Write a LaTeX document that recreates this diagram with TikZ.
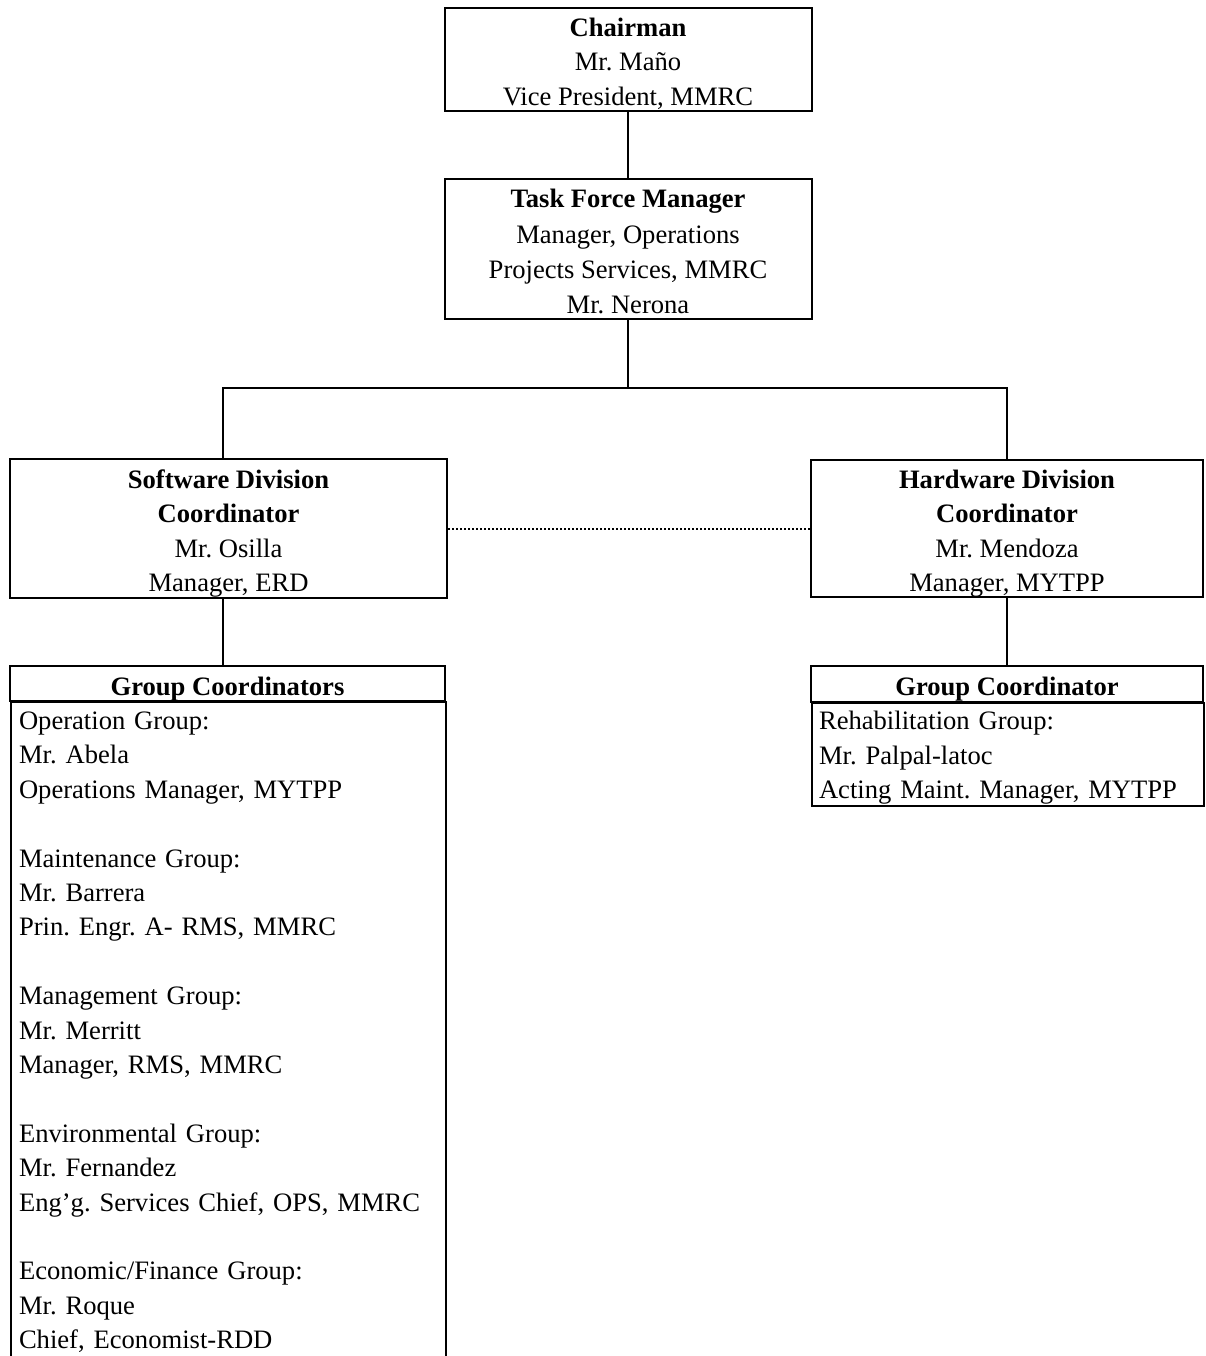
\documentclass[tikz,border=0pt]{standalone}
\usepackage{fontspec}
\setmainfont{Liberation Serif}
\newcommand\ostrut{\rule[-5.7pt]{0pt}{34.4pt}}
\newcommand\rstrut{\rule[-7.8pt]{0pt}{34.4pt}}
\tikzset{
  orgbox/.style={draw, line width=2pt, inner sep=0pt, align=center, font=\fontsize{26.6}{34.4}\selectfont\frenchspacing},
  headbox/.style={draw, line width=2pt, inner sep=0pt, align=center, font=\fontsize{26.6}{34.4}\selectfont\bfseries},
  listbox/.style={draw, line width=2pt, inner xsep=7pt, inner ysep=0pt, align=left, anchor=north west, font=\fontsize{26.6}{34.4}\selectfont\frenchspacing},
  link/.style={line width=2pt},
  peer/.style={line width=2pt, dash pattern=on 2pt off 2pt},
}
\begin{document}
\begin{tikzpicture}[x=1pt,y=-1pt]
\useasboundingbox (0,0) rectangle (1205,1356);
\clip (0,0) rectangle (1205,1356);

\node[orgbox, minimum width=367pt, minimum height=103pt] (chair) at (628,59.5)
  {\ostrut\textbf{Chairman}\\\ostrut Mr. Maño\\\ostrut Vice President, MMRC};
\node[orgbox, minimum width=367pt, minimum height=138pt] (tfm) at (628,249)
  {\ostrut\textbf{Task Force Manager}\\\ostrut Manager, Operations\\\ostrut Projects Services, MMRC\\\ostrut Mr. Nerona};
\node[orgbox, minimum width=437pt, minimum height=139pt] (sw) at (228.5,528.5)
  {\ostrut\textbf{Software Division}\\\ostrut\textbf{Coordinator}\\\ostrut Mr. Osilla\\\ostrut Manager, ERD};
\node[orgbox, minimum width=392pt, minimum height=137pt] (hw) at (1007,528.5)
  {\ostrut\textbf{Hardware Division}\\\ostrut\textbf{Coordinator}\\\ostrut Mr. Mendoza\\\ostrut Manager, MYTPP};

\node[headbox, minimum width=435pt, minimum height=35pt] (gch) at (227.5,683.5)
  {\ostrut Group Coordinators};
\node[listbox, text width=419pt, inner xsep=8pt, inner ysep=3.5pt] (gcb) at (10,701)
  {\strut Operation Group:\\\strut Mr. Abela\\\strut Operations Manager, MYTPP\\\strut\\
   \strut Maintenance Group:\\\strut Mr. Barrera\\\strut Prin. Engr. A- RMS, MMRC\\\strut\\
   \strut Management Group:\\\strut Mr. Merritt\\\strut Manager, RMS, MMRC\\\strut\\
   \strut Environmental Group:\\\strut Mr. Fernandez\\\strut Eng'g. Services Chief, OPS, MMRC\\\strut\\
   \strut Economic/Finance Group:\\\strut Mr. Roque\\\strut Chief, Economist-RDD};

\node[headbox, minimum width=392pt, minimum height=36pt] (gh) at (1007,684)
  {\ostrut Group Coordinator};
\node[listbox, text width=378pt] (gb) at (811,702)
  {\rstrut Rehabilitation Group:\\\rstrut Mr. Palpal-latoc\\\rstrut Acting Maint. Manager, MYTPP};

\coordinate (bus) at (628,388);
\coordinate (swtop) at ([xshift=-5.5pt]sw.north);
\coordinate (swbot) at ([xshift=-5.5pt]sw.south);

\draw[link] (chair.south) -- (tfm.north);
\draw[link] (tfm.south) -- (bus);
\draw[link] (swtop) |- (bus) -| (hw.north);
\draw[link] (swbot) -- (swbot |- gch.north);
\draw[link] (hw.south) -- (gh.north);
\draw[peer] (sw.east) -- (hw.west);
\end{tikzpicture}
\end{document}
